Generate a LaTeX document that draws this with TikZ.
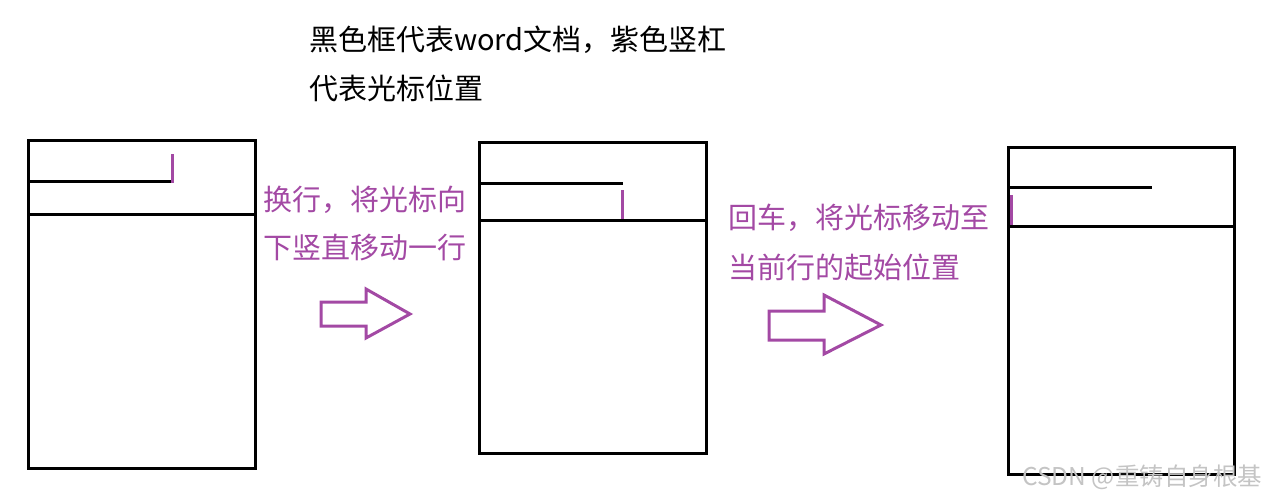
\documentclass[tikz,border=0pt]{standalone}
\usepackage{fontspec}
\setmainfont{Noto Sans CJK SC}
\newfontfamily\cjk{Noto Sans CJK SC}
\definecolor{curpurple}{HTML}{A349A4}
\definecolor{wmgray}{HTML}{C4C4C4}
\tikzset{
  doc/.style={draw=black, line width=3pt},
  docline/.style={draw=black, line width=3pt},
  cursor/.style={draw=curpurple, line width=3pt},
  bigarrow/.style={draw=curpurple, line width=3pt, line join=miter},
  caption/.style={anchor=west, inner sep=0pt, font=\cjk\fontsize{29}{29}\selectfont, text=black},
  pcaption/.style={anchor=west, inner sep=0pt, font=\cjk\fontsize{29}{29}\selectfont, text=curpurple},
  wm/.style={anchor=west, inner sep=0pt, font=\cjk\fontsize{24.5}{24.5}\selectfont, text=wmgray}
}
\begin{document}
\begin{tikzpicture}[x=1pt,y=-1pt]
\useasboundingbox (0,0) rectangle (1266,498);
% captions
\node[caption] (t1) at (309,40) {黑色框代表word文档，紫色竖杠};
\node[caption] (t2) at (309,88) {代表光标位置};
% document 1
\node[doc, minimum width=227pt, minimum height=328pt, inner sep=0pt, anchor=north west] (d1) at (27,139) {};
\coordinate (d1a) at (27,181);
\coordinate (d1b) at (172,181);
\draw[docline] (d1a) -- (d1b);
\coordinate (d1c) at (27,214);
\coordinate (d1d) at (254,214);
\draw[docline] (d1c) -- (d1d);
\coordinate (c1a) at (172,154);
\coordinate (c1b) at (172,183);
\draw[cursor] (c1a) -- (c1b);
% arrow 1 text
\node[pcaption] (p1) at (263,200) {换行，将光标向};
\node[pcaption] (p2) at (263,248) {下竖直移动一行};
\draw[bigarrow] (321,302) -- (366,302) -- (366,289) -- (410,314) -- (366,338) -- (366,326) -- (321,326) -- cycle;
% document 2
\node[doc, minimum width=227pt, minimum height=311pt, inner sep=0pt, anchor=north west] (d2) at (478,141) {};
\coordinate (d2a) at (478,183);
\coordinate (d2b) at (623,183);
\draw[docline] (d2a) -- (d2b);
\coordinate (d2c) at (478,220);
\coordinate (d2d) at (705,220);
\draw[docline] (d2c) -- (d2d);
\coordinate (c2a) at (622,190);
\coordinate (c2b) at (622,219);
\draw[cursor] (c2a) -- (c2b);
% arrow 2 text
\node[pcaption] (p3) at (728,218) {回车，将光标移动至};
\node[pcaption] (p4) at (728,267) {当前行的起始位置};
\draw[bigarrow] (769,311) -- (824,311) -- (824,295) -- (881,325) -- (824,354) -- (824,340) -- (769,340) -- cycle;
% document 3
\node[doc, minimum width=226pt, minimum height=327pt, inner sep=0pt, anchor=north west] (d3) at (1007,146) {};
\coordinate (d3a) at (1007,187);
\coordinate (d3b) at (1152,187);
\draw[docline] (d3a) -- (d3b);
\coordinate (d3c) at (1007,226);
\coordinate (d3d) at (1233,226);
\draw[docline] (d3c) -- (d3d);
\coordinate (c3a) at (1011,195);
\coordinate (c3b) at (1011,225);
\draw[cursor] (c3a) -- (c3b);
% watermark
\node[wm] (w) at (1022,477) {CSDN @重铸自身根基};
\end{tikzpicture}
\end{document}
